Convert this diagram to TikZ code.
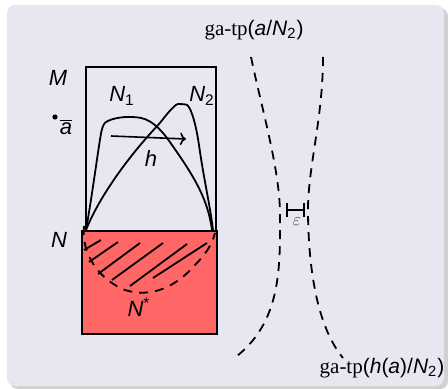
\documentclass[tikz,border=0pt]{standalone}
\usepackage{fontspec}
\setmainfont{Liberation Serif}
\setsansfont{Liberation Sans}
\usepackage{xcolor}
\usetikzlibrary{arrows.meta, positioning, calc}
\definecolor{blockbg}{RGB}{231,231,241}
\definecolor{redfill}{RGB}{255,102,102}

\begin{document}
\begin{tikzpicture}[
    x=0.5pt, y=-0.5pt,
    font=\sffamily\itshape\fontsize{11}{13}\selectfont,
    lbl/.style={inner sep=0pt},
    frame/.style={draw, line width=1pt, inner sep=0pt, anchor=north west},
    curve/.style={line width=0.9pt, rounded corners=2pt},
    typeline/.style={line width=0.9pt, dash pattern=on 4.5pt off 3.5pt},
    hatch/.style={line width=0.9pt},
    arrow/.style={-{To[length=3pt]}, line width=0.8pt}
]
    \useasboundingbox (0,0) rectangle (448,389);

    % --- Hintergrund ---
    \fill [black!18, rounded corners=4pt] (10,8) rectangle (448,389);
    \fill [blockbg, rounded corners=4pt] (7,5) rectangle (444,386);

    % --- Modelle ---
    \node [frame, minimum width=65pt, minimum height=82pt] (mbox) at (85,66) {};
    \draw [curve] (86,230) .. controls (93,190) and (98,150) .. (102,128)
        .. controls (106,120) and (118,117) .. (132,117)
        .. controls (150,118) and (160,128) .. (172,145)
        .. controls (195,178) and (208,200) .. (212,230);
    \draw [curve] (86,230) .. controls (100,195) and (130,155) .. (160,123)
        .. controls (170,110) and (176,104) .. (182,104)
        .. controls (190,105) and (195,120) .. (199,145)
        .. controls (204,180) and (210,205) .. (213,230);
    \node [frame, fill=redfill, minimum width=67.5pt, minimum height=51.5pt] (nbox) at (81,230) {};

    % schraffierter Bereich N*
    \draw [typeline] (84,226) .. controls (81,255) and (100,280) .. (125,290)
        .. controls (150,298) and (175,288) .. (195,265)
        .. controls (205,255) and (212,245) .. (215,233);
    \foreach \xa/\ya/\xb/\yb in {84/250/101/240, 89/262/118/242, 98/274/140/243,
                                 112/280/163/243, 130/286/187/244, 153/278/207/243}
        \draw [hatch] (\xa,\ya) -- (\xb,\yb);

    % Abbildung h
    \coordinate (hstart) at (111,136);
    \coordinate (hend) at (186,139);
    \draw [arrow] (hstart) -- (hend);

    % --- Beschriftungen ---
    \node [lbl] (mlabel) at (58,78) {M};
    \node [lbl] (nlabel) at (59,240) {N};
    \node [lbl] (n1label) at (122,96) {N\textsubscript{\upshape 1}};
    \node [lbl] (n2label) at (202,96) {N\textsubscript{\upshape 2}};
    \node [lbl] (hlabel) at (151,159) {h};
    \node [lbl] (nstar) at (139,307) {N\textsuperscript{\upshape *}};
    \fill (55,117) circle (2.6);
    \node [lbl] (abar) at (66,127) {$\overline{\hbox{a}}$};

    % --- Typen ---
    \draw [typeline] (251,57) .. controls (262,110) and (280,170) .. (280,215)
        .. controls (280,265) and (282,320) .. (237,356);
    \draw [typeline] (323,57) .. controls (323,120) and (307,170) .. (308,215)
        .. controls (309,280) and (320,330) .. (343,358);
    \node [lbl, font=\fontsize{10.5}{12}\selectfont] (tpa) at (254,30)
        {\rmfamily ga-tp\sffamily(\itshape a\upshape/\itshape N\textsubscript{\upshape 2}\upshape)};
    \node [lbl, font=\fontsize{10.5}{12}\selectfont] (tpha) at (382,368)
        {\rmfamily ga-tp\sffamily(\itshape h\upshape(\itshape a\upshape)/\itshape N\textsubscript{\upshape 2}\upshape)};

    % Abstand epsilon
    \coordinate (epsl) at (287,210);
    \coordinate (epsr) at (304,210);
    \draw [line width=1pt] (epsl) -- (epsr) (287,203) -- (287,217) (304,203) -- (304,217);
    \node [lbl, text=black!60, font=\fontsize{9}{10}\selectfont] (eps) at (297,222) {$\varepsilon$};

\end{tikzpicture}
\end{document}
